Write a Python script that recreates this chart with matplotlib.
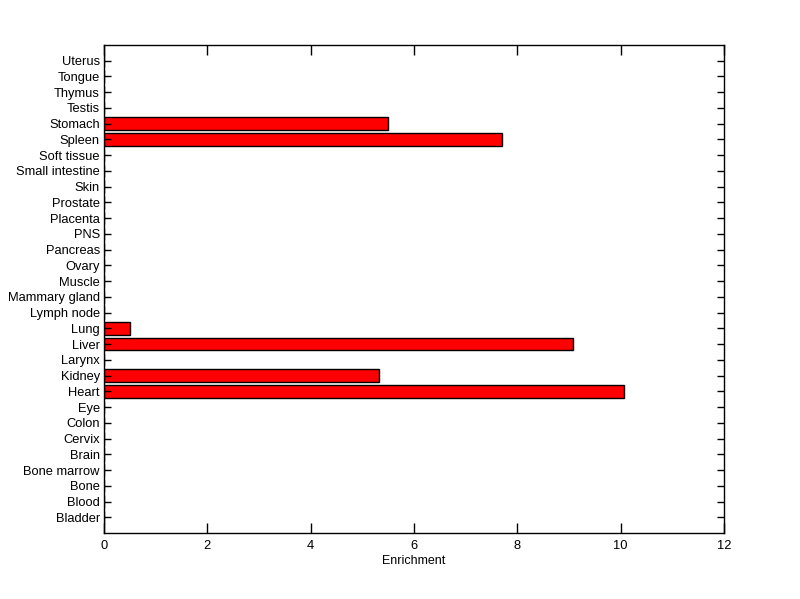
import matplotlib
matplotlib.use('Agg')
import matplotlib.pyplot as plt
import numpy as np

tissues = ['Bladder', 'Blood', 'Bone', 'Bone marrow', 'Brain', 'Cervix', 'Colon', 'Eye',
           'Heart', 'Kidney', 'Larynx', 'Liver', 'Lung', 'Lymph node', 'Mammary gland',
           'Muscle', 'Ovary', 'Pancreas', 'PNS', 'Placenta', 'Prostate', 'Skin',
           'Small intestine', 'Soft tissue', 'Spleen', 'Stomach', 'Testis', 'Thymus',
           'Tongue', 'Uterus']
enrichment = [0, 0, 0, 0, 0, 0, 0, 0,
              10.07, 5.33, 0, 9.07, 0.5, 0, 0,
              0, 0, 0, 0, 0, 0, 0,
              0, 0, 7.71, 5.49, 0, 0,
              0, 0]

plt.rcParams['font.family'] = ['Liberation Sans', 'DejaVu Sans']

fig = plt.figure(figsize=(8, 5.99), dpi=100)
ax = fig.add_axes([0.13, 0.11, 0.775, 0.815])

pos = np.arange(1, len(tissues) + 1)
ax.barh(pos, enrichment, height=0.8, color='red', edgecolor='black', linewidth=1)

ax.set_xlim(0, 12)
ax.set_ylim(0, len(tissues) + 1)
ax.set_xticks(np.arange(0, 13, 2))
ax.set_yticks(pos)
ax.set_yticklabels(tissues)
ax.set_xlabel('Enrichment', fontsize=9, labelpad=2)

ax.tick_params(axis='both', direction='in', labelsize=9.3, width=1, top=True, right=True)
ax.tick_params(axis='y', length=5, pad=3)
ax.tick_params(axis='x', length=7, pad=5)
for s in ax.spines.values():
    s.set_linewidth(1)

fig.savefig('out.png', dpi=100)
